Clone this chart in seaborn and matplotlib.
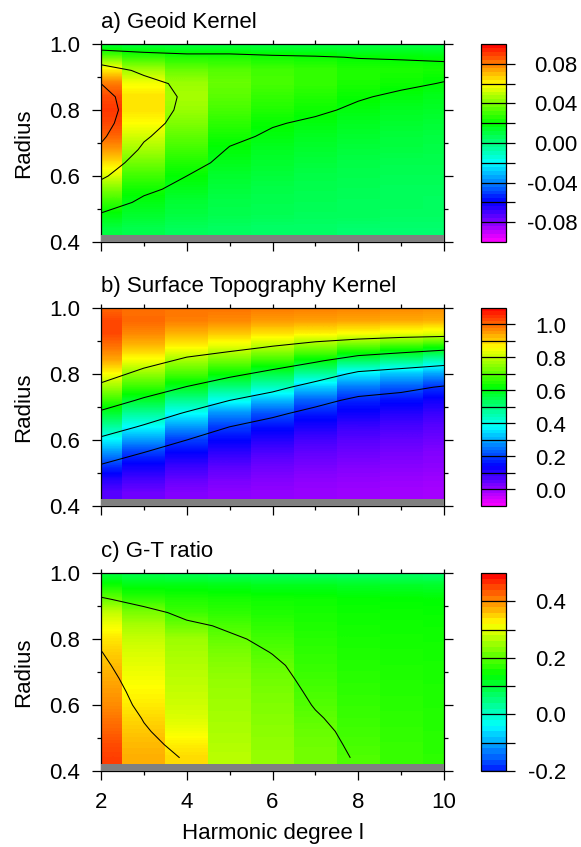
import matplotlib
matplotlib.use("Agg")

import matplotlib.pyplot as plt
import matplotlib.ticker as mtick
import numpy as np
import seaborn as sns
from matplotlib.cm import ScalarMappable
from matplotlib.colors import Normalize

# ── Data ────────────────────────────────────────────────────────────────────
DEGREES = [2, 3, 4, 5, 6, 7, 8, 9, 10]
RADII = [0.44, 0.48, 0.52, 0.56, 0.60, 0.64, 0.68, 0.72, 0.76,
         0.80, 0.84, 0.88, 0.92, 0.96, 1.00]

# one row per harmonic degree (l=2..10), values from r=0.44 up to r=1.0
GEOID_KERNEL = [
    [0.010, 0.018, 0.028, 0.040, 0.054, 0.065, 0.076, 0.084, 0.089, 0.091, 0.088, 0.080, 0.062, 0.034, 0.008],
    [0.008, 0.013, 0.017, 0.023, 0.030, 0.038, 0.046, 0.053, 0.060, 0.064, 0.064, 0.058, 0.045, 0.027, 0.008],
    [0.006, 0.010, 0.012, 0.016, 0.020, 0.025, 0.030, 0.035, 0.040, 0.044, 0.046, 0.044, 0.036, 0.024, 0.008],
    [0.005, 0.008, 0.009, 0.011, 0.013, 0.016, 0.019, 0.023, 0.027, 0.031, 0.034, 0.036, 0.033, 0.024, 0.008],
    [0.004, 0.007, 0.008, 0.009, 0.011, 0.013, 0.015, 0.018, 0.021, 0.025, 0.028, 0.031, 0.030, 0.022, 0.008],
    [0.004, 0.006, 0.007, 0.008, 0.009, 0.011, 0.013, 0.015, 0.018, 0.022, 0.025, 0.028, 0.028, 0.021, 0.008],
    [0.003, 0.006, 0.006, 0.007, 0.008, 0.009, 0.011, 0.013, 0.015, 0.018, 0.021, 0.024, 0.025, 0.0195, 0.008],
    [0.003, 0.005, 0.006, 0.006, 0.007, 0.008, 0.010, 0.011, 0.013, 0.015, 0.018, 0.022, 0.024, 0.019, 0.008],
    [0.003, 0.005, 0.005, 0.006, 0.007, 0.008, 0.009, 0.010, 0.012, 0.014, 0.016, 0.0195, 0.023, 0.0185, 0.008],
]

TOPO_KERNEL = [
    [0.060, 0.110, 0.185, 0.280, 0.375, 0.475, 0.575, 0.675, 0.770, 0.860, 0.940, 0.990, 1.030, 1.030, 1.000],
    [0.040, 0.080, 0.130, 0.195, 0.290, 0.385, 0.480, 0.580, 0.675, 0.760, 0.850, 0.920, 0.970, 1.000, 0.990],
    [0.020, 0.050, 0.090, 0.140, 0.200, 0.290, 0.385, 0.490, 0.595, 0.690, 0.775, 0.865, 0.930, 0.980, 0.990],
    [0.010, 0.030, 0.060, 0.100, 0.145, 0.200, 0.280, 0.400, 0.510, 0.630, 0.730, 0.830, 0.910, 0.970, 0.990],
    [0.005, 0.020, 0.040, 0.070, 0.110, 0.155, 0.220, 0.320, 0.445, 0.560, 0.680, 0.790, 0.885, 0.955, 0.985],
    [0.000, 0.010, 0.030, 0.050, 0.080, 0.120, 0.165, 0.235, 0.340, 0.480, 0.615, 0.745, 0.870, 0.950, 0.980],
    [-0.005, 0.005, 0.020, 0.040, 0.060, 0.090, 0.130, 0.175, 0.260, 0.370, 0.535, 0.700, 0.855, 0.945, 0.975],
    [-0.010, 0.000, 0.015, 0.030, 0.050, 0.075, 0.110, 0.155, 0.230, 0.330, 0.500, 0.665, 0.840, 0.940, 0.970],
    [-0.015, -0.005, 0.010, 0.020, 0.040, 0.060, 0.090, 0.130, 0.190, 0.300, 0.455, 0.635, 0.830, 0.935, 0.965],
]

GT_RATIO = [
    [0.455, 0.445, 0.430, 0.415, 0.400, 0.390, 0.378, 0.365, 0.352, 0.335, 0.310, 0.275, 0.210, 0.150, 0.090],
    [0.375, 0.368, 0.358, 0.346, 0.332, 0.322, 0.312, 0.302, 0.292, 0.278, 0.258, 0.225, 0.170, 0.130, 0.080],
    [0.345, 0.330, 0.310, 0.295, 0.285, 0.278, 0.272, 0.265, 0.258, 0.250, 0.215, 0.180, 0.160, 0.128, 0.075],
    [0.270, 0.265, 0.260, 0.256, 0.252, 0.248, 0.243, 0.235, 0.225, 0.210, 0.190, 0.170, 0.155, 0.125, 0.070],
    [0.245, 0.242, 0.238, 0.234, 0.230, 0.225, 0.218, 0.210, 0.198, 0.185, 0.172, 0.160, 0.150, 0.120, 0.068],
    [0.222, 0.218, 0.213, 0.205, 0.197, 0.190, 0.183, 0.177, 0.172, 0.166, 0.160, 0.155, 0.148, 0.120, 0.066],
    [0.195, 0.190, 0.185, 0.180, 0.176, 0.172, 0.168, 0.164, 0.160, 0.156, 0.152, 0.148, 0.142, 0.115, 0.064],
    [0.180, 0.177, 0.174, 0.171, 0.168, 0.165, 0.162, 0.159, 0.156, 0.153, 0.150, 0.146, 0.140, 0.113, 0.062],
    [0.170, 0.168, 0.166, 0.164, 0.162, 0.160, 0.158, 0.156, 0.154, 0.151, 0.148, 0.144, 0.138, 0.110, 0.060],
]

TITLES = ["a) Geoid Kernel", "b) Surface Topography Kernel", "c) G-T ratio"]
CONTOUR_LEVELS = [[0.02, 0.05, 0.08], [0.2, 0.4, 0.6, 0.8], [0.2, 0.35]]
CBAR_TICKS = [
    [-0.08, -0.06, -0.04, -0.02, 0.0, 0.02, 0.04, 0.06, 0.08],
    [0.0, 0.1, 0.2, 0.3, 0.4, 0.5, 0.6, 0.7, 0.8, 0.9, 1.0],
    [-0.2, -0.1, 0.0, 0.1, 0.2, 0.3, 0.4],
]
CBAR_LABELS = [
    ["-0.08", "", "-0.04", "", "0.00", "", "0.04", "", "0.08"],
    ["0.0", "", "0.2", "", "0.4", "", "0.6", "", "0.8", "", "1.0"],
    ["-0.2", "", "0.0", "", "0.2", "", "0.4"],
]

# ── Style ───────────────────────────────────────────────────────────────────
W, H = 581, 847
FS = 16
CORE = "#808080"
RAINBOW = sns.blend_palette(["#ff00ff", "#0000ff", "#00ffff",
                             "#00ff00", "#ffff00", "#ff0000"], as_cmap=True)

sns.set_style("ticks")
plt.rcParams.update({
    "font.family": ["Liberation Sans", "DejaVu Sans"],
    "axes.edgecolor": "black",
    "axes.linewidth": 0.9,
    "xtick.color": "black",
    "ytick.color": "black",
    "text.color": "black",
    "axes.labelcolor": "black",
})


def px_axes(fig, left, top, width, height):
    return fig.add_axes([left / W, 1 - (top + height) / H, width / W, height / H])


def draw_panel(fig, top, field, title, levels, cmap_range, cbar_range,
               ticks, labels, nbands, label_pad, last=False):
    ax = px_axes(fig, 101, top, 343, 198)
    cax = px_axes(fig, 481, top, 25, 198)

    norm = Normalize(*cmap_range)
    z = np.array(field).T
    dr = RADII[1] - RADII[0]

    # stepped in degree, smooth in radius
    for j, l in enumerate(DEGREES):
        ax.imshow(z[:, j:j + 1], origin="lower", aspect="auto",
                  extent=(l - 0.5, l + 0.5, RADII[0] - dr / 2, RADII[-1] + dr / 2),
                  cmap=RAINBOW, norm=norm, interpolation="bilinear",
                  interpolation_stage="data")
    ax.contour(DEGREES, RADII, z, levels=levels, colors="black", linewidths=0.75)
    ax.axhspan(0.40, 0.42, color=CORE, lw=0, zorder=3)

    ax.set_xlim(2, 10)
    ax.set_ylim(0.4, 1.0)
    ax.set_xticks([2, 4, 6, 8, 10])
    ax.set_xticks([3, 5, 7, 9], minor=True)
    ax.set_yticks([0.4, 0.6, 0.8, 1.0])
    ax.set_yticks([0.5, 0.7, 0.9], minor=True)
    ax.yaxis.set_major_formatter(mtick.FormatStrFormatter("%.1f"))
    ax.tick_params(which="both", direction="out", top=True, right=True,
                   labelsize=FS, pad=9, width=0.9)
    ax.tick_params(which="major", length=6.2)
    ax.tick_params(which="minor", length=3)
    for t in ax.xaxis.get_major_ticks():
        t.tick2line.set_markersize(3)
    if not last:
        ax.tick_params(labelbottom=False)
    else:
        ax.set_xlabel("Harmonic degree l", fontsize=FS)
        ax.xaxis.set_label_coords(0.5, -0.265)
    ax.set_ylabel("Radius", fontsize=FS)
    ax.yaxis.set_label_coords(-0.195, 0.5)
    ax.annotate(title, xy=(0, 1), xycoords="axes fraction", xytext=(0, 11.7),
                textcoords="offset points", ha="left", va="baseline", fontsize=FS)

    # colorbar keeps the banded look of the original
    sm = ScalarMappable(norm=norm, cmap=RAINBOW)
    nb = int(round((cbar_range[1] - cbar_range[0]) / (cmap_range[1] - cmap_range[0]) * nbands))
    cb = fig.colorbar(sm, cax=cax, ticks=ticks,
                      boundaries=np.linspace(cbar_range[0], cbar_range[1], nb + 1))
    cb.outline.set_linewidth(0.9)
    cb.outline.set_edgecolor("black")
    for v in ticks:
        cax.axhline(v, color="black", lw=0.9)
    cb.set_ticklabels(labels)
    # labels are right-aligned so a minus sign hangs to the left
    cax.tick_params(length=6.2, width=0.9, labelsize=FS, pad=label_pad, direction="out")
    plt.setp(cax.get_yticklabels(), ha="right")
    return ax


fig = plt.figure(figsize=(W / 100, H / 100), dpi=100)

draw_panel(fig, 44, GEOID_KERNEL, TITLES[0], CONTOUR_LEVELS[0],
           (-0.1, 0.1), (-0.1, 0.1), CBAR_TICKS[0], CBAR_LABELS[0], 50, 45.5)
draw_panel(fig, 308, TOPO_KERNEL, TITLES[1], CONTOUR_LEVELS[1],
           (-0.1, 1.1), (-0.1, 1.1), CBAR_TICKS[1], CBAR_LABELS[1], 60, 37)
draw_panel(fig, 573, GT_RATIO, TITLES[2], CONTOUR_LEVELS[2],
           (-0.4, 0.5), (-0.2, 0.5), CBAR_TICKS[2], CBAR_LABELS[2], 45, 37, last=True)

fig.savefig("out.png", dpi=100)
plt.close(fig)
